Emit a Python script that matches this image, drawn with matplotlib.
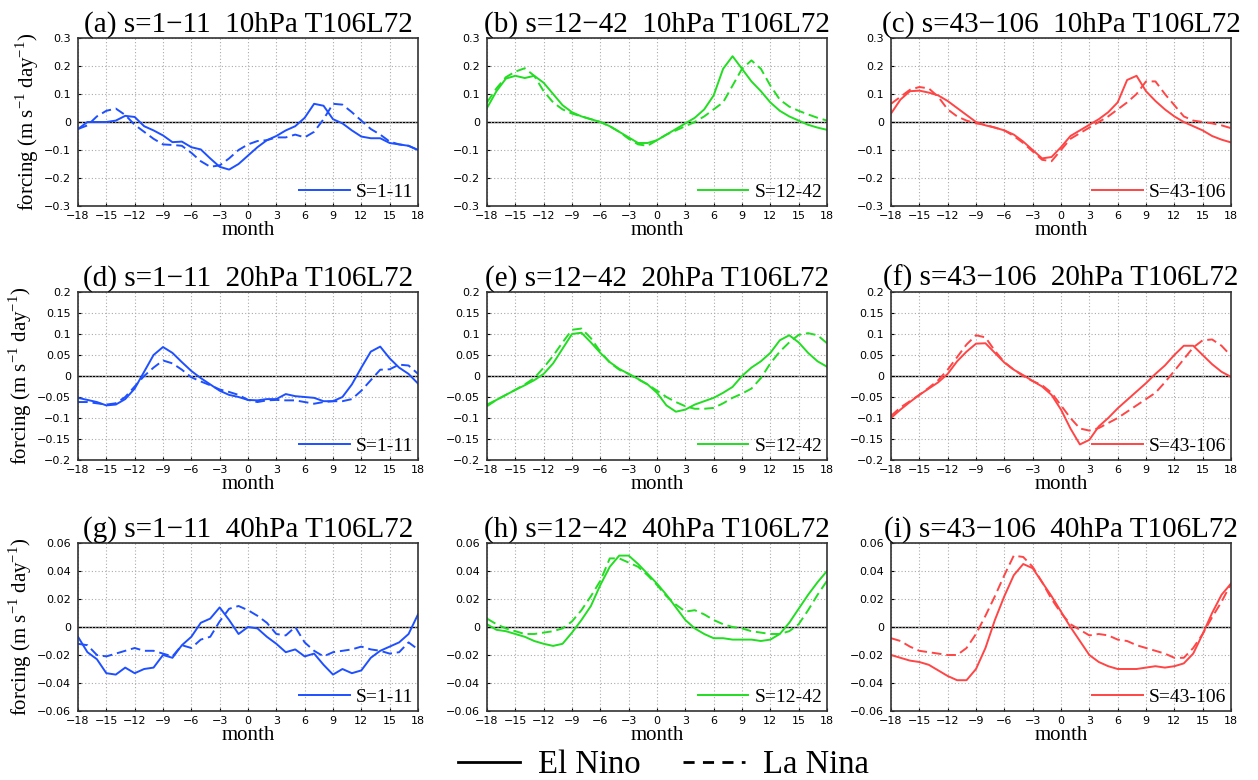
import numpy as np
import matplotlib
matplotlib.use("Agg")
import matplotlib.pyplot as plt
from matplotlib.lines import Line2D

plt.rcParams["mathtext.fontset"] = "custom"
plt.rcParams["mathtext.rm"] = "Liberation Serif"

months = np.arange(-18, 19)

# forcing composites, one row per pressure level, one column per wavenumber band
# 10 hPa
elnino_10_s1 = [-0.025, 0.0, 0.0, 0.0, 0.005, 0.022, 0.018, -0.015, -0.03, -0.048,
                -0.072, -0.07, -0.09, -0.098, -0.13, -0.16, -0.17, -0.15, -0.12,
                -0.09, -0.065, -0.05, -0.03, -0.015, 0.015, 0.065, 0.058, 0.01,
                -0.005, -0.03, -0.052, -0.058, -0.058, -0.075, -0.08, -0.085, -0.1]
lanina_10_s1 = [-0.025, -0.012, 0.02, 0.04, 0.048, 0.025, -0.01, -0.035, -0.06, -0.08,
                -0.082, -0.085, -0.11, -0.14, -0.16, -0.155, -0.13, -0.1, -0.08,
                -0.068, -0.065, -0.055, -0.055, -0.045, -0.055, -0.035, 0.01, 0.065,
                0.062, 0.035, 0.005, -0.025, -0.045, -0.07, -0.08, -0.085, -0.1]
elnino_10_s2 = [0.05, 0.11, 0.155, 0.165, 0.157, 0.165, 0.14, 0.10, 0.06, 0.035,
                0.02, 0.01, 0.0, -0.015, -0.035, -0.055, -0.075, -0.075, -0.065,
                -0.045, -0.025, -0.005, 0.015, 0.045, 0.095, 0.19, 0.235, 0.19,
                0.145, 0.11, 0.07, 0.04, 0.02, 0.005, -0.01, -0.02, -0.028]
lanina_10_s2 = [0.07, 0.12, 0.16, 0.18, 0.192, 0.165, 0.11, 0.07, 0.045, 0.03,
                0.02, 0.01, 0.0, -0.015, -0.035, -0.06, -0.08, -0.085, -0.065,
                -0.045, -0.03, -0.015, 0.0, 0.02, 0.045, 0.07, 0.13, 0.19,
                0.22, 0.19, 0.13, 0.08, 0.055, 0.04, 0.027, 0.015, 0.005]
elnino_10_s3 = [0.03, 0.08, 0.11, 0.112, 0.105, 0.095, 0.075, 0.05, 0.025, 0.0,
                -0.012, -0.02, -0.03, -0.045, -0.07, -0.1, -0.13, -0.125, -0.09,
                -0.05, -0.03, -0.01, 0.01, 0.035, 0.07, 0.15, 0.165, 0.11,
                0.075, 0.045, 0.02, 0.0, -0.015, -0.03, -0.05, -0.063, -0.073]
lanina_10_s3 = [0.065, 0.09, 0.115, 0.125, 0.12, 0.09, 0.045, 0.02, 0.005, -0.005,
                -0.01, -0.02, -0.03, -0.05, -0.075, -0.105, -0.135, -0.14, -0.1,
                -0.06, -0.04, -0.02, 0.0, 0.02, 0.045, 0.07, 0.1, 0.145,
                0.145, 0.1, 0.06, 0.02, 0.005, 0.0, -0.005, -0.012, -0.022]

# 20 hPa
elnino_20_s1 = [-0.052, -0.057, -0.062, -0.07, -0.068, -0.055, -0.03, 0.01, 0.05, 0.069,
                0.055, 0.033, 0.012, -0.005, -0.02, -0.035, -0.045, -0.05, -0.057,
                -0.058, -0.055, -0.055, -0.043, -0.048, -0.05, -0.052, -0.06, -0.06,
                -0.05, -0.02, 0.02, 0.058, 0.07, 0.042, 0.02, 0.005, -0.018]
lanina_20_s1 = [-0.062, -0.062, -0.065, -0.068, -0.065, -0.05, -0.025, 0.0, 0.02, 0.037,
                0.03, 0.015, -0.003, -0.013, -0.022, -0.032, -0.038, -0.045, -0.057,
                -0.062, -0.058, -0.057, -0.058, -0.058, -0.062, -0.066, -0.062, -0.06,
                -0.06, -0.055, -0.035, -0.01, 0.015, 0.016, 0.027, 0.025, 0.005]
elnino_20_s2 = [-0.068, -0.057, -0.045, -0.033, -0.022, -0.01, 0.005, 0.03, 0.065, 0.1,
                0.103, 0.08, 0.055, 0.033, 0.017, 0.005, -0.007, -0.02, -0.04,
                -0.07, -0.085, -0.08, -0.068, -0.06, -0.052, -0.04, -0.026, 0.0,
                0.02, 0.035, 0.055, 0.085, 0.097, 0.08, 0.055, 0.035, 0.022]
lanina_20_s2 = [-0.072, -0.057, -0.045, -0.033, -0.02, -0.005, 0.02, 0.048, 0.08, 0.11,
                0.113, 0.09, 0.058, 0.032, 0.015, 0.005, -0.008, -0.02, -0.035,
                -0.05, -0.062, -0.072, -0.078, -0.078, -0.076, -0.065, -0.052, -0.042,
                -0.03, -0.005, 0.03, 0.058, 0.08, 0.098, 0.102, 0.097, 0.078]
elnino_20_s3 = [-0.1, -0.08, -0.062, -0.045, -0.03, -0.015, 0.005, 0.035, 0.058, 0.077,
                0.078, 0.055, 0.032, 0.015, 0.002, -0.012, -0.025, -0.045, -0.08,
                -0.125, -0.163, -0.152, -0.12, -0.1, -0.077, -0.057, -0.037, -0.017,
                0.005, 0.025, 0.05, 0.072, 0.072, 0.05, 0.028, 0.01, -0.002]
lanina_20_s3 = [-0.095, -0.075, -0.06, -0.045, -0.028, -0.01, 0.015, 0.045, 0.075, 0.097,
                0.092, 0.06, 0.033, 0.015, 0.0, -0.012, -0.022, -0.04, -0.07,
                -0.1, -0.125, -0.13, -0.124, -0.112, -0.1, -0.085, -0.07, -0.055,
                -0.04, -0.015, 0.012, 0.04, 0.068, 0.085, 0.087, 0.072, 0.048]

# 40 hPa
elnino_40_s1 = [-0.007, -0.018, -0.023, -0.033, -0.034, -0.029, -0.033, -0.03, -0.029, -0.02,
                -0.022, -0.013, -0.007, 0.003, 0.006, 0.014, 0.005, -0.005, 0.0,
                -0.001, -0.007, -0.012, -0.018, -0.016, -0.021, -0.019, -0.027, -0.034,
                -0.03, -0.033, -0.031, -0.022, -0.017, -0.014, -0.011, -0.005, 0.009]
lanina_40_s1 = [-0.012, -0.013, -0.02, -0.021, -0.019, -0.017, -0.015, -0.017, -0.017, -0.019,
                -0.021, -0.013, -0.015, -0.009, -0.007, 0.004, 0.013, 0.015, 0.012,
                0.008, 0.003, -0.005, -0.006, 0.0, -0.011, -0.017, -0.021, -0.018,
                -0.017, -0.016, -0.014, -0.016, -0.017, -0.019, -0.018, -0.011, -0.016]
elnino_40_s2 = [0.002, -0.002, -0.003, -0.005, -0.007, -0.01, -0.012, -0.0135, -0.012, -0.004,
                0.005, 0.015, 0.03, 0.043, 0.051, 0.051, 0.045, 0.038, 0.031,
                0.023, 0.014, 0.005, -0.001, -0.005, -0.008, -0.008, -0.009, -0.009,
                -0.009, -0.01, -0.009, -0.005, 0.003, 0.013, 0.023, 0.032, 0.04]
lanina_40_s2 = [0.006, 0.002, -0.001, -0.003, -0.005, -0.005, -0.004, -0.003, -0.001, 0.004,
                0.012, 0.022, 0.033, 0.049, 0.049, 0.046, 0.043, 0.037, 0.03,
                0.022, 0.016, 0.011, 0.012, 0.009, 0.005, 0.002, 0.0, -0.001,
                -0.003, -0.004, -0.005, -0.005, -0.003, 0.002, 0.012, 0.023, 0.033]
elnino_40_s3 = [-0.02, -0.022, -0.024, -0.025, -0.027, -0.031, -0.035, -0.038, -0.038, -0.03,
                -0.015, 0.005, 0.022, 0.037, 0.045, 0.042, 0.032, 0.022, 0.011,
                0.0, -0.01, -0.02, -0.025, -0.028, -0.03, -0.03, -0.03, -0.029,
                -0.028, -0.029, -0.028, -0.026, -0.019, -0.005, 0.01, 0.023, 0.031]
lanina_40_s3 = [-0.008, -0.01, -0.014, -0.017, -0.018, -0.019, -0.02, -0.02, -0.015, -0.005,
                0.008, 0.022, 0.037, 0.051, 0.05, 0.043, 0.032, 0.02, 0.01,
                0.002, -0.002, -0.006, -0.005, -0.006, -0.009, -0.01, -0.013, -0.015,
                -0.017, -0.019, -0.022, -0.022, -0.015, -0.005, 0.007, 0.018, 0.031]

levels = ["10hPa", "20hPa", "40hPa"]
bands = ["1\u221211", "12\u221242", "43\u2212106"]
band_keys = ["S=1-11", "S=12-42", "S=43-106"]
band_colors = ["#1e50ff", "#22dd22", "#ff4545"]
letters = "abcdefghi"

elnino = [[elnino_10_s1, elnino_10_s2, elnino_10_s3],
          [elnino_20_s1, elnino_20_s2, elnino_20_s3],
          [elnino_40_s1, elnino_40_s2, elnino_40_s3]]
lanina = [[lanina_10_s1, lanina_10_s2, lanina_10_s3],
          [lanina_20_s1, lanina_20_s2, lanina_20_s3],
          [lanina_40_s1, lanina_40_s2, lanina_40_s3]]

ylims = [0.3, 0.2, 0.06]
ysteps = [0.1, 0.05, 0.02]

W, H = 1258, 780
col_left = [78, 487, 891]
row_top = [38, 292, 543]
ax_w, ax_h = 340, 168

serif = ["Liberation Serif", "DejaVu Serif"]


def fmt_tick(v):
    if abs(v) < 1e-9:
        return "0"
    s = f"{abs(v):.2f}".rstrip("0").rstrip(".")
    return ("\u2212" if v < 0 else "") + s


fig = plt.figure(figsize=(W / 100, H / 100), dpi=100)

for r in range(3):
    for c in range(3):
        ax = fig.add_axes([col_left[c] / W, (H - row_top[r] - ax_h) / H,
                           ax_w / W, ax_h / H])
        col = band_colors[c]
        ax.plot(months, elnino[r][c], color=col, lw=1.4, label=band_keys[c])
        ax.plot(months, lanina[r][c], color=col, lw=1.4, ls=(0, (5, 2.5)))
        ax.axhline(0, color="black", lw=1.0, zorder=1)

        lim = ylims[r]
        yt = np.round(np.arange(-lim, lim + ysteps[r] / 2, ysteps[r]), 3)
        ax.set_ylim(-lim, lim)
        ax.set_yticks(yt)
        ax.set_yticklabels([fmt_tick(v) for v in yt])
        xt = np.arange(-18, 19, 3)
        ax.set_xlim(-18, 18)
        ax.set_xticks(xt)
        ax.set_xticklabels([fmt_tick(v) for v in xt])
        ax.tick_params(labelsize=8, length=2, direction="in")
        ax.tick_params(axis="x", pad=3.5)
        ax.tick_params(axis="y", pad=5)
        ax.grid(True, color="#aaaaaa", ls=(0, (1, 2)), lw=0.8)
        for sp in ax.spines.values():
            sp.set_color("#333333")
            sp.set_linewidth(1.2)

        ax.set_xlabel("month", family=serif, fontsize=15, labelpad=0)
        if c == 0:
            ax.set_ylabel("forcing (m s$^{\\mathrm{-1}}$ day$^{\\mathrm{-1}}$)",
                          family=serif, fontsize=15, labelpad=2)
        ax.set_title(f"({letters[r * 3 + c]}) s={bands[c]}  {levels[r]} T106L72",
                     family=serif, fontsize=21, pad=3)
        ax.legend(loc="lower right", frameon=False, handlelength=2.6,
                  handletextpad=0.3, borderaxespad=0.15, borderpad=0.1,
                  prop={"family": serif, "size": 14})

handles = [Line2D([], [], color="black", lw=2),
           Line2D([], [], color="black", lw=2, ls=(0, (4, 3)))]
fig.legend(handles, ["El Nino", "La Nina"], loc="center", ncol=2,
           bbox_to_anchor=(0.527, 0.019), frameon=False, handlelength=1.9,
           columnspacing=1.3, handletextpad=0.55,
           prop={"family": serif, "size": 23.5})

fig.savefig("out.png", dpi=100)
